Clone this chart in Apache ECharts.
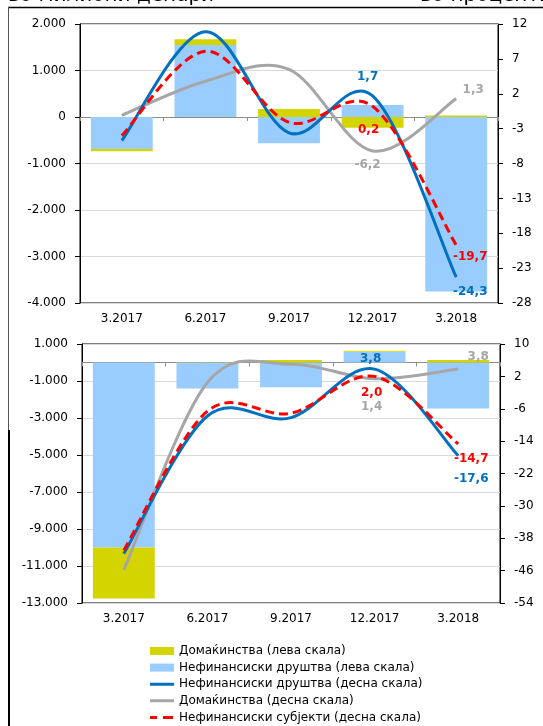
<!DOCTYPE html>
<html><head><meta charset="utf-8">
<script src="https://cdn.jsdelivr.net/npm/echarts@6/dist/echarts.min.js"></script>
<style>html,body{margin:0;padding:0;background:#fff;}#c{width:543px;height:726px;}</style>
</head><body><div id="c"></div>
<script>
const categories = ['3.2017', '6.2017', '9.2017', '12.2017', '3.2018'];

// top chart
const domLeftTop = [-45, 120, 170, -230, 30];
const nfdLeftTop = [-690, 1550, -565, 260, -3750];
const nfdRightTop = [-4.7, 10.9, -3.6, 1.7, -24.3];
const domRightTop = [-1.1, 3.8, 5.5, -6.2, 1.3];
const nfsRightTop = [-4.0, 8.1, -2.1, 0.2, -19.7];

// bottom chart
const domLeftBot = [-2750, 10, 130, 60, 130];
const nfdLeftBot = [-10000, -1400, -1340, 580, -2480];
const nfdRightBot = [-41.8, -7.8, -8.2, 3.8, -17.6];
const domRightBot = [-45.8, 0.5, 5.0, 1.4, 3.8];
const nfsRightBot = [-41.0, -6.6, -7.1, 2.0, -14.7];

// tick labels
const leftTicksTop = [2000, 1000, 0, -1000, -2000, -3000, -4000];
const rightTicksTop = [12, 7, 2, -3, -8, -13, -18, -23, -28];
const leftTicksBot = [1000, -1000, -3000, -5000, -7000, -9000, -11000, -13000];
const rightTicksBot = [10, 2, -6, -14, -22, -30, -38, -46, -54];

const N_DOM_L = 'Домаќинства (лева скала)';
const N_NFD_L = 'Нефинансиски друштва (лева скала)';
const N_NFD_R = 'Нефинансиски друштва (десна скала)';
const N_DOM_R = 'Домаќинства (десна скала)';
const N_NFS_R = 'Нефинансиски субјекти (десна скала)';

const FONT = '"DejaVu Sans", Verdana, sans-serif';
const C_YEL = '#D4D400', C_LBLUE = '#99CCFF', C_BLUE = '#0070C0', C_GRAY = '#A6A6A6', C_RED = '#FF0000';

function fmtThousands(v) {
  const s = Math.abs(v).toString().replace(/\B(?=(\d{3})+(?!\d))/g, '.');
  return (v < 0 ? '-' : '') + s;
}
function fmtDec(v) { return v.toFixed(1).replace('.', ','); }

// Excel-like smoothing (Catmull-Rom as cubic Bezier)
function crPath(pts) {
  let d = 'M' + pts[0][0] + ',' + pts[0][1];
  for (let i = 0; i < pts.length - 1; i++) {
    const p0 = pts[i - 1] || pts[i], p1 = pts[i], p2 = pts[i + 1], p3 = pts[i + 2] || pts[i + 1];
    const c1x = p1[0] + (p2[0] - p0[0]) / 6, c1y = p1[1] + (p2[1] - p0[1]) / 6;
    const c2x = p2[0] - (p3[0] - p1[0]) / 6, c2y = p2[1] - (p3[1] - p1[1]) / 6;
    d += ' C' + c1x + ',' + c1y + ' ' + c2x + ',' + c2y + ' ' + p2[0] + ',' + p2[1];
  }
  return d;
}

function yAxes(grid, lmin, lmax, lticks, rmin, rmax, rticks) {
  return [
    { type: 'value', gridIndex: grid, position: 'left', min: lmin, max: lmax,
      axisLine: { show: true, lineStyle: { color: '#000' } },
      axisTick: { show: true, length: 5, lineStyle: { color: '#000' }, customValues: lticks },
      axisLabel: { customValues: lticks, formatter: fmtThousands, color: '#000', fontSize: 12, fontFamily: FONT, margin: 14 },
      splitLine: { show: true, lineStyle: { color: '#d9d9d9', width: 1 } } },
    { type: 'value', gridIndex: grid, position: 'right', min: rmin, max: rmax,
      axisLine: { show: true, lineStyle: { color: '#000' } },
      axisTick: { show: true, length: 5, lineStyle: { color: '#000' }, customValues: rticks },
      axisLabel: { customValues: rticks, color: '#000', fontSize: 12, fontFamily: FONT, margin: 14 },
      splitLine: { show: false } }
  ];
}
function xAxes(grid) {
  return [
    { type: 'category', gridIndex: grid, data: categories, position: 'bottom',
      axisLine: { show: false, onZero: false }, axisTick: { show: false },
      axisLabel: { color: '#000', fontSize: 12, fontFamily: FONT, margin: 10 } },
    { type: 'category', gridIndex: grid, data: categories, position: 'bottom',
      axisLine: { show: true, onZero: true, lineStyle: { color: '#8c8c8c', width: 1 } },
      axisTick: { show: true, length: 4, lineStyle: { color: '#8c8c8c' } },
      axisLabel: { show: false } }
  ];
}

function curveSeries(name, xi, yi, values, color, dash, labelOffsets, z) {
  return {
    name, type: 'custom', xAxisIndex: xi, yAxisIndex: yi, z: z,
    data: values.map((v, i) => [i, v]),
    encode: { x: 0, y: 1 },
    itemStyle: { color },
    renderItem: function (params, api) {
      if (params.dataIndex !== 0) return null;
      const pts = values.map((v, i) => api.coord([i, v]));
      const children = [{
        type: 'path', shape: { pathData: crPath(pts) },
        style: { fill: 'none', stroke: color, lineWidth: 3, lineDash: dash || null, lineJoin: 'round' }
      }];
      Object.keys(labelOffsets).forEach(k => {
        const i = +k, off = labelOffsets[k];
        children.push({
          type: 'text', x: pts[i][0] + off[0], y: pts[i][1] + off[1], z2: 10,
          style: { text: fmtDec(values[i]), fill: color, font: 'bold 12px ' + FONT, align: 'center', verticalAlign: 'middle' }
        });
      });
      return { type: 'group', children };
    }
  };
}

function seriesFor(xi, yl, yr, nfdL, domL, domR, nfdR, nfsR, lbl) {
  return [
    { name: N_NFD_L, type: 'bar', xAxisIndex: xi, yAxisIndex: yl, stack: 'L' + xi, data: nfdL,
      itemStyle: { color: C_LBLUE }, barCategoryGap: '26%', z: 2 },
    { name: N_DOM_L, type: 'bar', xAxisIndex: xi, yAxisIndex: yl, stack: 'L' + xi, data: domL,
      itemStyle: { color: C_YEL }, barCategoryGap: '26%', z: 2 },
    curveSeries(N_DOM_R, xi, yr, domR, C_GRAY, null, lbl.dom, 5),
    curveSeries(N_NFD_R, xi, yr, nfdR, C_BLUE, null, lbl.nfd, 6),
    curveSeries(N_NFS_R, xi, yr, nfsR, C_RED, [9, 5], lbl.nfs, 7)
  ];
}

const lblTop = {
  nfd: { 3: [-5, -19], 4: [14, 15] },
  nfs: { 3: [-4, 24], 4: [14, 12] },
  dom: { 3: [-5, 14], 4: [17, -9] }
};
const lblBot = {
  nfd: { 3: [-4, -10], 4: [13, 23] },
  nfs: { 3: [-3, 16], 4: [13, 15] },
  dom: { 3: [-3, 28], 4: [20, -12] }
};

const ICON_LINE = 'path://M0,2.5h24v3h-24z M0,0L0,8 M24,0L24,8';
const ICON_DASH = 'path://M0,2.5h7v3h-7z M13,2.5h10v3h-10z M0,0L0,8 M24,0L24,8';

const chart = echarts.init(document.getElementById('c'), null, { renderer: 'canvas' });
chart.setOption({
  animation: false,
  backgroundColor: '#fff',
  grid: [
    { left: 80, top: 24, width: 418, height: 279, show: true, borderColor: '#000', borderWidth: 1, backgroundColor: 'transparent' },
    { left: 82, top: 344, width: 418, height: 259, show: true, borderColor: '#000', borderWidth: 1, backgroundColor: 'transparent' }
  ],
  xAxis: [...xAxes(0), ...xAxes(1)],
  yAxis: [...yAxes(0, -4000, 2000, leftTicksTop, -28, 12, rightTicksTop),
          ...yAxes(1, -13000, 1000, leftTicksBot, -54, 10, rightTicksBot)],
  legend: {
    orient: 'vertical', left: 150, top: 645, padding: 0, height: 81, itemWidth: 24, itemHeight: 8, itemGap: 4.6,
    textStyle: { fontSize: 12, fontFamily: FONT, color: '#000' },
    data: [{ name: N_DOM_L, icon: 'rect' }, { name: N_NFD_L, icon: 'rect' },
           { name: N_NFD_R, icon: ICON_LINE }, { name: N_DOM_R, icon: ICON_LINE }, { name: N_NFS_R, icon: ICON_DASH }]
  },
  series: [
    ...seriesFor(0, 0, 1, nfdLeftTop, domLeftTop, domRightTop, nfdRightTop, nfsRightTop, lblTop),
    ...seriesFor(2, 2, 3, nfdLeftBot, domLeftBot, domRightBot, nfdRightBot, nfsRightBot, lblBot)
  ],
  graphic: [
    { type: 'text', x: 8, y: -4, style: { text: 'во милиони денари', font: '20px ' + FONT, fill: '#000', verticalAlign: 'middle' } },
    { type: 'text', x: 420, y: -4, style: { text: 'во проценти', font: '20px ' + FONT, fill: '#000', verticalAlign: 'middle' } },
    { type: 'line', shape: { x1: 8, y1: 7.5, x2: 543, y2: 7.5 }, style: { stroke: '#000', lineWidth: 1.5 } },
    { type: 'line', shape: { x1: 8.5, y1: 7, x2: 8.5, y2: 430 }, style: { stroke: '#555', lineWidth: 1 } },
    { type: 'line', shape: { x1: 9, y1: 430, x2: 9, y2: 726 }, style: { stroke: '#000', lineWidth: 2 } }
  ]
});
</script></body></html>
